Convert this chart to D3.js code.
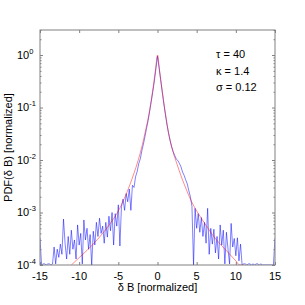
<!DOCTYPE html>
<html>
<head>
<meta charset="utf-8">
<script src="https://cdn.jsdelivr.net/npm/d3@7"></script>
<style>
body{margin:0;background:#fff;}
text{font-family:"Liberation Sans",Arial,sans-serif;fill:#000;}
</style>
</head>
<body>
<svg id="chart" width="305" height="305"></svg>
<script>
// histogram bins: first bin centre and width
var binStart = -15;
var binStep = 0.2;

// measured PDF, one value per bin (values under 1e-4 fall below the axis)
var pdfValues = [
	3.3e-4, 8e-5, 1.05e-4, 1.05e-4, 8e-5, 1.05e-4, 1.05e-4, 8e-5, 1.05e-4, 2.2e-4,
	1.05e-4, 2.0e-4, 1.4e-4, 2.5e-4, 1.6e-4, 7.5e-4, 2.6e-4, 1.3e-4, 3.5e-4, 1.6e-4,
	4.6e-4, 2.0e-4, 3.0e-4, 1.3e-4, 5.8e-4, 2.4e-4, 4.0e-4, 1.05e-4, 7.2e-4, 3.0e-4,
	5.0e-4, 2.0e-4, 3.8e-4, 8e-5, 4.4e-4, 2.4e-4, 6.5e-4, 3.5e-4, 7.8e-4, 4.0e-4,
	5.5e-4, 2.6e-4, 6.5e-4, 3.4e-4, 8.5e-4, 4.5e-4, 1.0e-3, 2.4e-4, 9.5e-4, 5.5e-4,
	1.4e-3, 2.3e-4, 1.3e-3, 1.8e-3, 1.1e-3, 2.3e-3, 1.6e-3, 2.8e-3, 1.1e-3, 3.3e-3,
	3.0e-3, 4.8e-3, 6.0e-3, 8.5e-3, 1.05e-2, 1.5e-2, 2.0e-2, 2.8e-2, 4.0e-2, 5.6e-2,
	8.5e-2, 0.13, 0.2, 0.32, 0.55, 0.95, 0.58, 0.34, 0.2, 0.12,
	0.075, 0.048, 0.033, 0.024, 0.018, 0.0145, 0.0122, 0.0104, 0.0098, 0.0086,
	0.0074, 0.0059, 0.0051, 0.0042, 0.0035, 0.0026, 0.0020, 0.0013, 8e-5, 1.2e-3,
	5.0e-4, 9.5e-4, 4.2e-4, 8.0e-4, 3.5e-4, 6.5e-4, 2.6e-4, 1.2e-3, 1.6e-4, 5.0e-4,
	2.5e-4, 4.8e-4, 1.7e-4, 3.5e-4, 1.3e-4, 5.8e-4, 2.4e-4, 4.6e-4, 1.05e-4, 4.2e-4,
	2.0e-4, 1.05e-4, 6.2e-4, 2.2e-4, 3.2e-4, 1.5e-4, 3.3e-4, 1.2e-4, 2.5e-4, 8e-5,
	1.05e-4, 1.05e-4, 8e-5, 1.05e-4, 1.05e-4, 8e-5, 1.05e-4, 8e-5, 1.05e-4, 1.05e-4,
	8e-5, 1.05e-4, 8e-5, 8e-5, 8e-5, 8e-5, 8e-5, 8e-5, 8e-5, 8e-5,
	3.3e-4
];

// fitted curve
var fitX = [-11, -10, -9, -8, -7, -6, -5, -4, -3, -2.5, -2, -1.5, -1, -0.5, -0.25, 0,
	0.25, 0.5, 1, 1.5, 2, 2.5, 3, 3.5, 4, 4.5, 5, 6, 7, 8, 9, 10, 10.5, 11];
var fitY = [1e-4, 1.38e-4, 1.9e-4, 2.7e-4, 4e-4, 6.3e-4, 1.07e-3, 2.24e-3, 5.6e-3, 9.5e-3,
	1.78e-2, 3.8e-2, 8.9e-2, 0.28, 0.54, 1,
	0.52, 0.27, 0.079, 0.028, 0.014, 8.3e-3, 5e-3, 3.2e-3, 2.1e-3, 1.45e-3, 1.07e-3,
	6.3e-4, 3.8e-4, 2.5e-4, 1.74e-4, 1.2e-4, 1e-4, 8.3e-5];

var xTicks = [-15, -10, -5, 0, 5, 10, 15];
var yExponents = [-4, -3, -2, -1, 0];
var fitParams = ["\u03c4 = 40", "\u03ba = 1.4", "\u03c3 = 0.12"];

var plotLeft = 40, plotTop = 30, plotW = 235, plotH = 235;
var axisGrey = "#808080";

var svg = d3.select("#chart");

var x = d3.scaleLinear().domain([-15, 15]).range([plotLeft, plotLeft + plotW]);
var y = d3.scaleLog().domain([1e-4, 3]).range([plotTop + plotH, plotTop]).clamp(true);

svg.append("clipPath").attr("id", "plotClip")
	.append("rect")
	.attr("x", plotLeft).attr("y", plotTop)
	.attr("width", plotW).attr("height", plotH);

var plot = svg.append("g").attr("clip-path", "url(#plotClip)");

var pdfLine = d3.line()
	.x(function(d, i) { return x(binStart + i * binStep); })
	.y(function(d) { return y(d); });

plot.append("path")
	.datum(pdfValues)
	.attr("d", pdfLine)
	.attr("fill", "none")
	.attr("stroke", "#0000ff")
	.attr("stroke-opacity", 0.5)
	.attr("stroke-width", 1);

var fitLine = d3.line()
	.x(function(d, i) { return x(fitX[i]); })
	.y(function(d) { return y(d); })
	.curve(d3.curveMonotoneX);

plot.append("path")
	.datum(fitY)
	.attr("d", fitLine)
	.attr("fill", "none")
	.attr("stroke", "#ff0000")
	.attr("stroke-opacity", 0.45)
	.attr("stroke-width", 1);

// box
svg.append("rect")
	.attr("x", plotLeft).attr("y", plotTop)
	.attr("width", plotW).attr("height", plotH)
	.attr("fill", "none")
	.attr("stroke", axisGrey);

var majors = yExponents.map(function(e) { return Math.pow(10, e); });
var minors = y.ticks().filter(function(v) {
	return majors.indexOf(v) < 0 && v <= 3;
});

function drawAxis(axis, tx, ty){
	var g = svg.append("g").attr("transform", "translate(" + tx + "," + ty + ")").call(axis);
	g.select(".domain").remove();
	g.selectAll("line").attr("stroke", axisGrey);
	g.selectAll("text").remove();
	return g;
}

drawAxis(d3.axisBottom(x).tickValues(xTicks).tickSize(-3), 0, plotTop + plotH);
drawAxis(d3.axisTop(x).tickValues(xTicks).tickSize(-3), 0, plotTop);
drawAxis(d3.axisLeft(y).tickValues(majors).tickSize(-3), plotLeft, 0);
drawAxis(d3.axisLeft(y).tickValues(minors).tickSize(-1.5), plotLeft, 0);
drawAxis(d3.axisRight(y).tickValues(majors).tickSize(-3), plotLeft + plotW, 0);
drawAxis(d3.axisRight(y).tickValues(minors).tickSize(-1.5), plotLeft + plotW, 0);

svg.selectAll(".xlab").data(xTicks)
	.enter()
	.append("text")
	.attr("class", "xlab")
	.attr("x", function(d) { return x(d); })
	.attr("y", 279.5)
	.attr("text-anchor", "middle")
	.attr("font-size", "11px")
	.text(function(d) { return d; });

var ylab = svg.selectAll(".ylab").data(yExponents)
	.enter()
	.append("text")
	.attr("class", "ylab")
	.attr("x", 17)
	.attr("y", function(d) { return y(Math.pow(10, d)) + 3.5; })
	.attr("font-size", "11px");
ylab.append("tspan").text("10");
ylab.append("tspan")
	.attr("dy", -5)
	.attr("font-size", "7.5px")
	.text(function(d) { return d; });

svg.append("text")
	.attr("x", x(0))
	.attr("y", 291)
	.attr("text-anchor", "middle")
	.attr("font-size", "11px")
	.text("\u03b4 B [normalized]");

svg.append("text")
	.attr("transform", "translate(12," + (plotTop + plotH / 2) + ") rotate(-90)")
	.attr("text-anchor", "middle")
	.attr("font-size", "11px")
	.text("PDF(\u03b4 B) [normalized]");

svg.selectAll(".param").data(fitParams)
	.enter()
	.append("text")
	.attr("class", "param")
	.attr("x", 216)
	.attr("y", function(d, i) { return 58 + i * 16.5; })
	.attr("font-size", "11px")
	.text(function(d) { return d; });
</script>
</body>
</html>
